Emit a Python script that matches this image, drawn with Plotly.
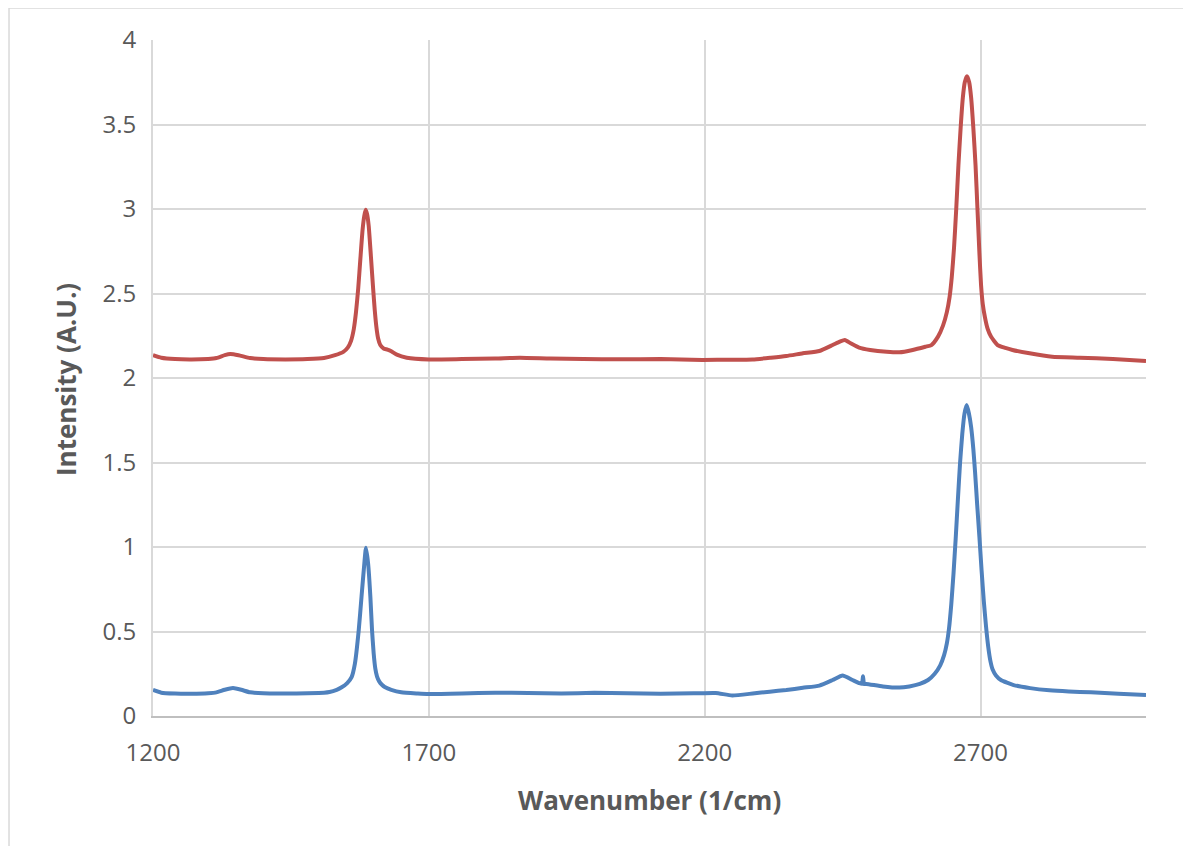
import plotly.graph_objects as go

# Wavenumber (1/cm) and intensity (A.U.)
red_x = [1200, 1215, 1240, 1270, 1300, 1315, 1330, 1340, 1355, 1376, 1400, 1440, 1480, 1510, 1530,
         1545, 1553, 1559, 1564, 1568, 1572, 1576, 1580, 1583, 1585.5, 1588, 1591, 1595, 1599, 1602,
         1605, 1608, 1612, 1618, 1625, 1632, 1642, 1660, 1700, 1760, 1820, 1865, 1920, 1980, 2046,
         2120, 2196, 2250, 2287, 2320, 2348, 2378, 2408, 2432, 2445, 2454, 2465, 2480, 2500, 2530,
         2553, 2577, 2600, 2611, 2623, 2632, 2639, 2644, 2648, 2652, 2656, 2660, 2664, 2668, 2671.5,
         2675.5, 2679.5, 2683, 2687, 2691, 2694.5, 2698, 2701, 2704, 2708, 2713, 2719, 2731, 2745,
         2758, 2789, 2830, 2880, 2940, 3000]
red_y = [2.135, 2.12, 2.112, 2.11, 2.113, 2.118, 2.135, 2.142, 2.135, 2.118, 2.112, 2.11, 2.112, 2.118, 2.135,
         2.155, 2.18, 2.22, 2.29, 2.39, 2.53, 2.71, 2.88, 2.96, 2.995, 2.97, 2.90, 2.72, 2.53, 2.40,
         2.30, 2.235, 2.195, 2.175, 2.168, 2.158, 2.138, 2.12, 2.11, 2.112, 2.115, 2.12, 2.115, 2.112, 2.111,
         2.112, 2.107, 2.108, 2.11, 2.12, 2.13, 2.146, 2.16, 2.195, 2.215, 2.225, 2.205, 2.18, 2.166, 2.155,
         2.152, 2.166, 2.185, 2.195, 2.245, 2.31, 2.39, 2.48, 2.60, 2.77, 3.00, 3.26, 3.48, 3.66, 3.75,
         3.785, 3.75, 3.66, 3.48, 3.26, 3.00, 2.74, 2.55, 2.44, 2.36, 2.29, 2.245, 2.195, 2.178,
         2.166, 2.146, 2.126, 2.12, 2.112, 2.10]

blue_x = [1200, 1215, 1240, 1270, 1300, 1315, 1330, 1345, 1360, 1376, 1400, 1440, 1480, 1510, 1520,
          1533, 1542, 1552, 1560, 1566, 1573, 1578, 1583, 1586, 1590, 1594, 1597, 1600, 1603, 1606,
          1610, 1615, 1620, 1632, 1650, 1680, 1700, 1760, 1820, 1880, 1940, 2000, 2060, 2120, 2180,
          2220, 2250, 2287, 2318, 2348, 2378, 2408, 2432, 2450, 2468, 2480, 2485, 2487, 2489, 2493,
          2523, 2553, 2571, 2590, 2605, 2617, 2627, 2634, 2639, 2643, 2647, 2651, 2655, 2659, 2663,
          2667, 2671, 2675, 2679, 2683, 2687, 2690, 2694, 2698, 2702, 2706, 2710, 2714, 2718, 2722,
          2728, 2737, 2760, 2790, 2825, 2860, 2900, 2950, 3000]
blue_y = [0.154, 0.138, 0.133, 0.132, 0.135, 0.14, 0.155, 0.165, 0.155, 0.14, 0.134, 0.133, 0.135, 0.138, 0.142,
          0.155, 0.17, 0.195, 0.23, 0.31, 0.51, 0.706, 0.90, 0.995, 0.90, 0.706, 0.51, 0.37, 0.28, 0.235,
          0.205, 0.185, 0.172, 0.155, 0.14, 0.133, 0.13, 0.133, 0.138, 0.136, 0.133, 0.137, 0.134, 0.132, 0.134,
          0.136, 0.122, 0.133, 0.144, 0.154, 0.167, 0.18, 0.213, 0.24, 0.213, 0.195, 0.19, 0.235, 0.19, 0.19,
          0.175, 0.168, 0.175, 0.19, 0.213, 0.25, 0.30, 0.36, 0.43, 0.52, 0.66, 0.84, 1.05, 1.28, 1.50,
          1.67, 1.79, 1.84, 1.79, 1.71, 1.58, 1.45, 1.25, 1.06, 0.86, 0.68, 0.53, 0.41, 0.325, 0.275,
          0.24, 0.213, 0.183, 0.165, 0.152, 0.145, 0.14, 0.132, 0.125]

x_ticks = [1200, 1700, 2200, 2700]
y_ticks = [0, 0.5, 1, 1.5, 2, 2.5, 3, 3.5, 4]

FONT = "Open Sans"
TXT = "#595959"

fig = go.Figure()
fig.add_trace(go.Scatter(x=red_x, y=red_y, mode="lines", name="Sample 2",
                         line=dict(color="#C0504D", width=4, shape="spline", smoothing=0.5)))
fig.add_trace(go.Scatter(x=blue_x, y=blue_y, mode="lines", name="Sample 1",
                         line=dict(color="#4F81BD", width=4, shape="spline", smoothing=0.5)))

fig.update_layout(
    width=1183, height=838,
    margin=dict(l=145, r=45, t=32, b=130),
    paper_bgcolor="white", plot_bgcolor="white",
    showlegend=False,
    font=dict(family=FONT, color=TXT, size=24),
    xaxis=dict(range=[1200, 3000], tickvals=x_ticks, ticktext=[str(v) for v in x_ticks],
               showgrid=True, gridcolor="#d9d9d9", gridwidth=1.8,
               showline=True, linecolor="#bfbfbf", linewidth=2,
               ticks="outside", ticklen=14, tickcolor="rgba(0,0,0,0)",
               tickfont=dict(family=FONT, size=24, color=TXT), zeroline=False),
    yaxis=dict(range=[0, 4], tickvals=y_ticks, ticktext=[f"{v:g}" for v in y_ticks],
               showgrid=True, gridcolor="#d9d9d9", gridwidth=1.8,
               showline=True, linecolor="#d9d9d9", linewidth=1.8,
               ticks="outside", ticklen=10, tickcolor="rgba(0,0,0,0)",
               tickfont=dict(family=FONT, size=24, color=TXT), zeroline=False),
)

fig.add_annotation(text="<b>Wavenumber (1/cm)</b>", xref="paper", yref="paper",
                   x=0.5005, y=-0.124, xanchor="center", yanchor="middle", showarrow=False,
                   font=dict(family=FONT, size=26, color=TXT))
fig.add_annotation(text="<b>Intensity (A.U.)</b>", xref="paper", yref="paper",
                   x=-0.0876, y=0.497, xanchor="center", yanchor="middle", showarrow=False,
                   textangle=-90, font=dict(family=FONT, size=26, color=TXT))

fig.add_shape(type="rect", xref="paper", yref="paper",
              x0=-0.145, x1=1.06, y0=-0.25, y1=1.0473,
              line=dict(color="#d9d9d9", width=1.5), fillcolor="rgba(0,0,0,0)", layer="below")

fig.write_html("out.html")
